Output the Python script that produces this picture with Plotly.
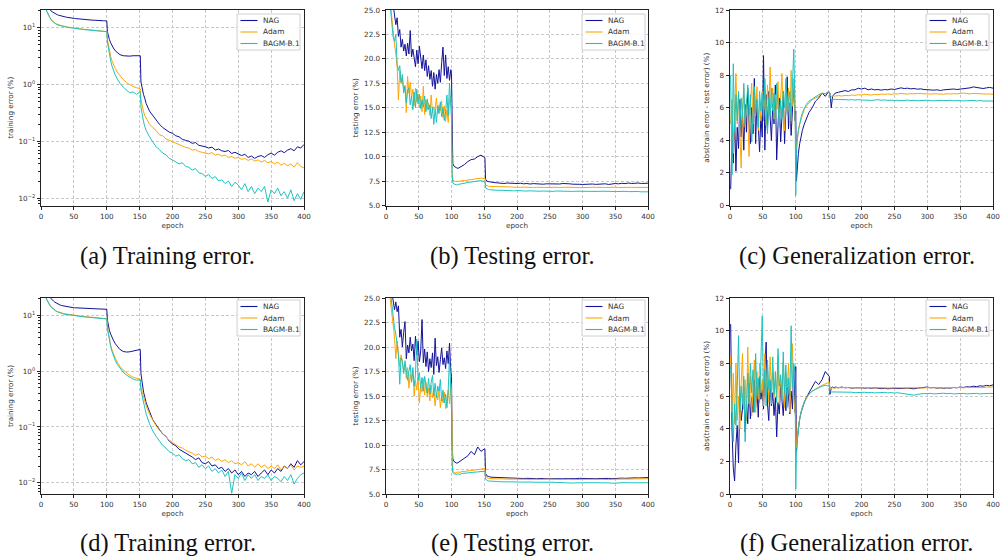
import plotly.graph_objects as go

# ---------------- epoch grid (4 segments) ----------------
EP_A = list(range(1, 100, 2))                                   # 50
EP_B = [100, 101, 102, 104, 106, 108, 110, 113, 116, 120, 125, 130, 135, 140, 145, 150]  # 16
EP_C = [151, 152, 154, 156, 158, 160]                           # 6
EP_D = list(range(165, 401, 5))                                 # 48
EPOCHS = EP_A + EP_B + EP_C + EP_D

SERIES = ["NAG", "Adam", "BAGM-B.1"]

# ---------------- (a) training error, row 1 ----------------
A_NAG = [45, 36, 30, 26, 23.5, 22, 20.8, 19.8, 19, 18.3,
         17.7, 17.2, 16.8, 16.5, 16.2, 16, 15.8, 15.6, 15.4, 15.2,
         15.1, 14.9, 14.8, 14.7, 14.6, 14.5, 14.4, 14.3, 14.2, 14.1,
         14.0, 14.0, 13.9, 13.8, 13.8, 13.7, 13.7, 13.6, 13.6, 13.5,
         13.5, 13.4, 13.4, 13.4, 13.3, 13.3, 13.3, 13.2, 13.2, 13.2,
         13.1, 8.5, 7.3, 6.2, 5.4, 4.8, 4.4, 3.9, 3.6, 3.35, 3.2, 3.15, 3.15, 3.2, 3.2, 3.25,
         3.2, 1.1, 0.78, 0.66, 0.56, 0.46,
         0.34, 0.28, 0.24, 0.2, 0.175, 0.16, 0.145, 0.138, 0.125, 0.12,
         0.108, 0.104, 0.1, 0.092, 0.095, 0.085, 0.083, 0.08, 0.076, 0.079,
         0.07, 0.073, 0.068, 0.066, 0.069, 0.061, 0.064, 0.06, 0.056, 0.059,
         0.052, 0.055, 0.05, 0.054, 0.056, 0.052, 0.058, 0.062, 0.057, 0.064,
         0.068, 0.063, 0.07, 0.074, 0.068, 0.08, 0.076, 0.088]
A_ADAM = [40, 32, 27, 22.5, 19.5, 17, 15.3, 14.1, 13.2, 12.6,
          12.1, 11.7, 11.4, 11.2, 11.0, 10.8, 10.7, 10.5, 10.4, 10.3,
          10.2, 10.1, 10.0, 9.9, 9.8, 9.75, 9.7, 9.6, 9.55, 9.5,
          9.45, 9.4, 9.35, 9.3, 9.25, 9.2, 9.15, 9.1, 9.05, 9.0,
          8.95, 8.9, 8.85, 8.8, 8.8, 8.75, 8.7, 8.65, 8.6, 8.55,
          8.5, 6.2, 5.2, 3.9, 3.1, 2.6, 2.25, 1.9, 1.65, 1.42, 1.22, 1.08, 0.98, 0.92, 0.88, 0.85,
          0.84, 0.55, 0.4, 0.33, 0.28, 0.25,
          0.2, 0.175, 0.155, 0.13, 0.125, 0.11, 0.104, 0.097, 0.092, 0.086,
          0.082, 0.078, 0.076, 0.07, 0.072, 0.066, 0.064, 0.062, 0.06, 0.063,
          0.057, 0.059, 0.055, 0.057, 0.052, 0.054, 0.05, 0.052, 0.048, 0.05,
          0.046, 0.049, 0.045, 0.047, 0.043, 0.046, 0.042, 0.044, 0.04, 0.043,
          0.038, 0.041, 0.037, 0.04, 0.035, 0.042, 0.036, 0.034]
A_BAGM = [39, 31, 26, 22, 19, 16.7, 15.1, 13.9, 13.0, 12.4,
          11.9, 11.5, 11.2, 11.0, 10.8, 10.6, 10.5, 10.4, 10.3, 10.2,
          10.1, 10.0, 9.9, 9.8, 9.7, 9.65, 9.6, 9.5, 9.45, 9.4,
          9.35, 9.3, 9.25, 9.2, 9.15, 9.1, 9.05, 9.0, 8.95, 8.9,
          8.85, 8.8, 8.75, 8.7, 8.7, 8.65, 8.6, 8.55, 8.5, 8.5,
          8.5, 5.6, 4.6, 3.3, 2.6, 2.1, 1.8, 1.45, 1.25, 1.05, 0.9, 0.79, 0.71, 0.74, 0.67, 0.73,
          0.72, 0.4, 0.28, 0.22, 0.18, 0.155,
          0.12, 0.095, 0.08, 0.072, 0.062, 0.058, 0.05, 0.047, 0.044, 0.04,
          0.042, 0.036, 0.035, 0.031, 0.033, 0.028, 0.027, 0.024, 0.026, 0.022,
          0.024, 0.02, 0.021, 0.018, 0.02, 0.016, 0.019, 0.017, 0.014, 0.018,
          0.013, 0.016, 0.012, 0.015, 0.013, 0.016, 0.0085, 0.014, 0.012, 0.015,
          0.011, 0.013, 0.01, 0.014, 0.009, 0.012, 0.0095, 0.013]

# ---------------- (b) testing error, row 1 ----------------
B_NAG = [40, 33, 29, 27.5, 26.5, 25.5, 24.8, 23.5, 24.2, 22.3,
         23.0, 21.2, 22.0, 20.8, 21.5, 20.3, 21.6, 20.5, 22.9, 20.2,
         21.0, 19.8, 19.2, 20.9, 19.5, 21.3, 20.0, 19.0, 20.4, 18.8,
         19.9, 18.2, 19.3, 17.9, 18.8, 17.2, 18.6, 16.9, 18.4, 17.5,
         18.9, 17.6, 19.6, 21.2, 18.3, 20.4, 18.0, 19.2, 17.8, 18.9,
         18.5, 10.5, 9.3, 9.0, 8.9, 8.85, 8.8, 8.9, 9.0, 9.2, 9.5, 9.7, 9.75, 10.0, 10.15, 10.0,
         9.9, 7.7, 7.5, 7.45, 7.4, 7.4,
         7.35, 7.3, 7.32, 7.25, 7.3, 7.27, 7.3, 7.25, 7.28, 7.22,
         7.25, 7.2, 7.24, 7.2, 7.22, 7.18, 7.22, 7.2, 7.18, 7.23,
         7.2, 7.25, 7.2, 7.22, 7.18, 7.2, 7.17, 7.15, 7.18, 7.15,
         7.2, 7.16, 7.2, 7.18, 7.22, 7.15, 7.2, 7.25, 7.22, 7.27,
         7.24, 7.3, 7.25, 7.28, 7.3, 7.25, 7.3, 7.28]
B_ADAM = [35, 30, 27, 25.5, 24, 22.8, 21.5, 20.5, 19.2, 15.8,
          18.8, 17.5, 18.0, 16.8, 17.3, 14.5, 18.2, 16.5, 17.6, 16.0,
          16.9, 15.2, 17.0, 15.6, 16.4, 15.0, 16.2, 14.6, 17.2, 14.3,
          15.8, 14.8, 15.5, 14.2, 16.3, 14.5, 15.1, 14.9, 16.0, 14.4,
          15.3, 14.7, 15.7, 14.0, 15.2, 13.6, 14.8, 13.5, 15.8, 16.2,
          14.5, 8.5, 7.6, 7.5, 7.45, 7.5, 7.45, 7.5, 7.55, 7.55, 7.6, 7.65, 7.7, 7.75, 7.8, 7.75,
          7.8, 7.1, 7.0, 6.98, 6.95, 6.95,
          6.92, 6.95, 6.9, 6.92, 6.88, 6.9, 6.87, 6.9, 6.86, 6.88,
          6.85, 6.87, 6.84, 6.86, 6.84, 6.86, 6.83, 6.85, 6.86, 6.84,
          6.86, 6.85, 6.87, 6.84, 6.86, 6.85, 6.83, 6.86, 6.84, 6.85,
          6.87, 6.84, 6.86, 6.85, 6.84, 6.86, 6.85, 6.87, 6.84, 6.86,
          6.85, 6.84, 6.86, 6.85, 6.84, 6.86, 6.85, 6.85]
B_BAGM = [34, 29, 26.5, 25, 23.5, 22.2, 21.8, 22.5, 19.5, 18.8,
          19.3, 17.6, 18.4, 16.5, 17.2, 15.5, 16.8, 17.0, 15.3, 16.2,
          14.8, 16.6, 15.0, 16.9, 15.4, 16.4, 14.9, 15.8, 15.1, 16.2,
          14.6, 15.9, 14.8, 15.3, 13.9, 15.0, 13.3, 14.9, 13.5, 15.2,
          14.4, 15.6, 14.1, 15.0, 13.7, 14.6, 16.3, 14.2, 17.5, 14.0,
          13.8, 8.2, 7.3, 7.2, 7.15, 7.1, 7.15, 7.2, 7.25, 7.3, 7.35, 7.4, 7.45, 7.5, 7.55, 7.45,
          7.5, 6.8, 6.7, 6.65, 6.62, 6.6,
          6.58, 6.55, 6.56, 6.53, 6.55, 6.52, 6.5, 6.52, 6.49, 6.5,
          6.48, 6.5, 6.47, 6.49, 6.46, 6.48, 6.46, 6.47, 6.45, 6.48,
          6.46, 6.47, 6.45, 6.46, 6.44, 6.46, 6.45, 6.46, 6.44, 6.45,
          6.43, 6.45, 6.44, 6.46, 6.43, 6.45, 6.44, 6.42, 6.44, 6.43,
          6.45, 6.42, 6.44, 6.41, 6.43, 6.4, 6.42, 6.4]

# ---------------- (c) generalization error, row 1 ----------------
C_NAG = [1.0, 4.0, 2.6, 5.5, 2.1, 4.8, 3.5, 6.5, 4.2, 5.8,
         3.4, 6.2, 4.5, 7.2, 5.0, 3.8, 6.0, 4.4, 7.8, 3.8,
         6.5, 4.8, 3.3, 5.5, 4.2, 9.2, 3.4, 6.8, 4.6, 7.0,
         5.2, 4.0, 6.2, 5.0, 7.4, 2.8, 4.9, 6.6, 3.9, 5.5,
         7.0, 3.8, 6.0, 7.9, 4.7, 6.3, 4.3, 5.8, 7.5, 5.2,
         5.8, 1.5, 2.3, 3.2, 3.8, 4.3, 4.6, 5.0, 5.3, 5.7, 6.0, 6.4, 6.6, 6.9, 6.7, 7.0,
         6.9, 6.9, 6.0, 6.7, 6.8, 6.9,
         6.95, 7.0, 7.05, 7.0, 7.1, 7.1, 7.2, 7.15, 7.2, 7.1,
         7.15, 7.1, 7.12, 7.08, 7.12, 7.1, 7.15, 7.12, 7.18, 7.22,
         7.18, 7.2, 7.16, 7.18, 7.14, 7.16, 7.12, 7.1, 7.12, 7.08,
         7.1, 7.06, 7.1, 7.12, 7.1, 7.15, 7.12, 7.14, 7.2, 7.18,
         7.22, 7.28, 7.24, 7.2, 7.18, 7.22, 7.25, 7.2]
C_ADAM = [5.0, 6.5, 3.2, 6.0, 8.1, 5.0, 6.8, 4.5, 2.3, 5.8,
          7.2, 4.8, 6.5, 5.5, 3.0, 6.2, 7.5, 5.0, 6.8, 5.5,
          7.3, 4.6, 6.4, 5.2, 7.0, 5.8, 6.5, 4.9, 7.4, 5.6,
          8.5, 6.0, 7.2, 5.3, 6.8, 5.9, 7.6, 5.0, 6.4, 8.1,
          5.5, 4.6, 6.9, 5.8, 7.2, 5.0, 8.3, 6.1, 7.8, 4.8,
          4.0, 3.5, 4.0, 4.6, 5.0, 5.3, 5.6, 5.9, 6.1, 6.3, 6.5, 6.6, 6.7, 6.9, 6.85, 7.0,
          6.95, 6.8, 6.7, 6.72, 6.7, 6.72,
          6.75, 6.72, 6.76, 6.74, 6.78, 6.76, 6.8, 6.78, 6.82, 6.8,
          6.78, 6.82, 6.8, 6.84, 6.82, 6.85, 6.82, 6.86, 6.84, 6.88,
          6.85, 6.84, 6.87, 6.85, 6.88, 6.86, 6.84, 6.86, 6.84, 6.86,
          6.84, 6.85, 6.83, 6.86, 6.84, 6.87, 6.85, 6.88, 6.9, 6.87,
          6.85, 6.88, 6.86, 6.84, 6.86, 6.84, 6.85, 6.83]
C_BAGM = [8.0, 1.9, 8.7, 4.5, 6.8, 5.2, 7.0, 4.8, 6.6, 5.4,
          7.5, 5.0, 6.2, 7.4, 5.5, 6.8, 3.9, 6.0, 7.3, 5.6,
          6.5, 4.8, 7.0, 5.8, 6.9, 5.2, 7.8, 6.0, 4.4, 6.6,
          5.5, 7.2, 5.8, 6.9, 5.0, 7.5, 6.2, 4.8, 6.5, 5.3,
          7.0, 6.0, 7.8, 5.6, 6.4, 7.0, 5.2, 7.5, 9.6, 6.0,
          0.6, 3.0, 4.0, 4.6, 5.1, 5.4, 5.7, 6.0, 6.2, 6.4, 6.55, 6.65, 6.8, 6.9, 6.85, 7.0,
          6.9, 6.6, 6.5, 6.52, 6.5, 6.52,
          6.5, 6.52, 6.5, 6.48, 6.5, 6.47, 6.5, 6.48, 6.46, 6.48,
          6.45, 6.47, 6.5, 6.46, 6.48, 6.45, 6.47, 6.44, 6.46, 6.43,
          6.45, 6.47, 6.44, 6.46, 6.43, 6.45, 6.44, 6.46, 6.44, 6.42,
          6.45, 6.43, 6.45, 6.44, 6.46, 6.43, 6.45, 6.44, 6.42, 6.44,
          6.43, 6.45, 6.42, 6.44, 6.41, 6.43, 6.42, 6.4]

# ---------------- (d) training error, row 2 ----------------
D_NAG = [45, 36, 30, 26.5, 24, 22.5, 21.2, 20, 19, 18,
         17.2, 16.6, 16.1, 15.7, 15.3, 15, 14.8, 14.6, 14.4, 14.2,
         14.1, 14.0, 13.9, 13.8, 13.7, 13.65, 13.6, 13.5, 13.45, 13.4,
         13.35, 13.3, 13.3, 13.25, 13.2, 13.2, 13.15, 13.1, 13.1, 13.05,
         13.0, 13.0, 12.95, 12.95, 12.9, 12.9, 12.9, 12.85, 12.85, 12.8,
         12.8, 8.2, 6.8, 5.4, 4.6, 4.0, 3.6, 3.1, 2.75, 2.45, 2.25, 2.2, 2.22, 2.28, 2.36, 2.45,
         2.45, 0.9, 0.55, 0.42, 0.34, 0.27,
         0.19, 0.135, 0.11, 0.09, 0.075, 0.068, 0.056, 0.05, 0.046, 0.04,
         0.037, 0.034, 0.031, 0.029, 0.026, 0.028, 0.023, 0.022, 0.024, 0.02,
         0.021, 0.018, 0.019, 0.016, 0.018, 0.015, 0.017, 0.014, 0.016, 0.013,
         0.015, 0.014, 0.016, 0.013, 0.015, 0.017, 0.014, 0.017, 0.015, 0.018,
         0.016, 0.02, 0.018, 0.022, 0.019, 0.025, 0.021, 0.024]
D_ADAM = [38, 30, 25, 21.5, 19, 17, 15.6, 14.5, 13.6, 12.9,
          12.4, 12.0, 11.7, 11.4, 11.2, 11.0, 10.9, 10.7, 10.6, 10.5,
          10.4, 10.3, 10.2, 10.1, 10.0, 9.95, 9.9, 9.8, 9.75, 9.7,
          9.6, 9.55, 9.5, 9.45, 9.4, 9.35, 9.3, 9.25, 9.2, 9.15,
          9.1, 9.05, 9.0, 8.95, 8.9, 8.85, 8.8, 8.8, 8.75, 8.7,
          8.7, 6.0, 5.0, 3.7, 2.9, 2.4, 2.05, 1.7, 1.45, 1.22, 1.05, 0.92, 0.84, 0.78, 0.74, 0.72,
          0.72, 0.5, 0.42, 0.35, 0.29, 0.24,
          0.17, 0.13, 0.105, 0.088, 0.076, 0.066, 0.058, 0.053, 0.048, 0.044,
          0.042, 0.038, 0.036, 0.034, 0.031, 0.033, 0.029, 0.03, 0.027, 0.029,
          0.025, 0.027, 0.024, 0.026, 0.023, 0.025, 0.022, 0.023, 0.021, 0.024,
          0.02, 0.022, 0.019, 0.022, 0.019, 0.021, 0.018, 0.02, 0.018, 0.021,
          0.017, 0.02, 0.018, 0.021, 0.017, 0.02, 0.019, 0.02]
D_BAGM = [37, 29, 24.5, 21, 18.6, 16.7, 15.3, 14.2, 13.4, 12.7,
          12.2, 11.8, 11.5, 11.2, 11.0, 10.8, 10.7, 10.5, 10.4, 10.3,
          10.2, 10.1, 10.0, 9.9, 9.85, 9.8, 9.7, 9.65, 9.6, 9.55,
          9.5, 9.45, 9.4, 9.35, 9.3, 9.25, 9.2, 9.15, 9.1, 9.05,
          9.0, 8.95, 8.9, 8.85, 8.8, 8.75, 8.75, 8.7, 8.65, 8.6,
          8.6, 5.8, 4.8, 3.5, 2.75, 2.25, 1.9, 1.55, 1.32, 1.12, 0.96, 0.85, 0.77, 0.72, 0.69, 0.7,
          0.7, 0.45, 0.34, 0.26, 0.21, 0.17,
          0.115, 0.085, 0.068, 0.056, 0.047, 0.042, 0.036, 0.034, 0.03, 0.032,
          0.027, 0.025, 0.026, 0.022, 0.023, 0.019, 0.021, 0.018, 0.02, 0.016,
          0.018, 0.015, 0.017, 0.013, 0.016, 0.0065, 0.014, 0.012, 0.015, 0.011,
          0.014, 0.012, 0.014, 0.011, 0.013, 0.012, 0.014, 0.011, 0.013, 0.012,
          0.0105, 0.013, 0.011, 0.014, 0.0095, 0.012, 0.014, 0.015]

# ---------------- (e) testing error, row 2 ----------------
E_NAG = [40, 32, 28, 26.5, 25.5, 24.5, 23.8, 24.6, 23.6, 24.2,
         21.0, 21.8, 20.0, 21.5, 22.6, 18.8, 20.2, 19.4, 21.0, 19.6,
         20.3, 18.6, 21.1, 19.2, 20.6, 18.5, 19.6, 22.8, 18.4, 19.8,
         18.0, 19.5, 17.5, 18.8, 17.9, 19.4, 17.2, 20.9, 18.1, 19.0,
         17.4, 18.7, 19.9, 18.2, 18.9, 17.8, 19.6, 18.3, 20.4, 17.5,
         17.0, 10.0, 8.6, 8.3, 8.2, 8.15, 8.2, 8.35, 8.5, 8.7, 8.9, 9.35, 9.0, 9.8, 9.35, 9.6,
         9.6, 7.1, 6.85, 6.8, 6.75, 6.72,
         6.7, 6.68, 6.66, 6.65, 6.63, 6.64, 6.6, 6.62, 6.6, 6.58,
         6.6, 6.57, 6.59, 6.56, 6.58, 6.55, 6.57, 6.55, 6.56, 6.54,
         6.56, 6.55, 6.57, 6.55, 6.58, 6.56, 6.6, 6.58, 6.6, 6.57,
         6.59, 6.56, 6.58, 6.6, 6.57, 6.59, 6.56, 6.6, 6.58, 6.62,
         6.6, 6.63, 6.61, 6.65, 6.63, 6.67, 6.65, 6.68]
E_ADAM = [35, 29, 26, 24.5, 23.0, 22.2, 21.0, 18.8, 20.6, 19.5,
          18.0, 19.2, 18.6, 17.4, 18.3, 16.8, 17.9, 15.8, 17.2, 16.5,
          17.6, 15.0, 16.6, 15.6, 16.9, 14.3, 16.0, 15.4, 16.8, 15.1,
          16.4, 14.9, 15.8, 14.5, 16.1, 14.8, 15.5, 14.0, 15.3, 14.6,
          15.7, 13.8, 15.0, 14.3, 15.4, 13.7, 14.9, 15.6, 14.2, 16.3,
          15.5, 8.3, 7.3, 7.2, 7.15, 7.2, 7.25, 7.2, 7.3, 7.3, 7.35, 7.4, 7.45, 7.5, 7.55, 7.6,
          7.6, 6.8, 6.65, 6.6, 6.58, 6.56,
          6.55, 6.54, 6.55, 6.52, 6.53, 6.51, 6.52, 6.5, 6.52, 6.5,
          6.51, 6.49, 6.5, 6.48, 6.5, 6.49, 6.51, 6.48, 6.5, 6.49,
          6.47, 6.49, 6.48, 6.5, 6.47, 6.49, 6.48, 6.5, 6.48, 6.5,
          6.49, 6.51, 6.49, 6.5, 6.48, 6.5, 6.52, 6.5, 6.52, 6.51,
          6.53, 6.52, 6.54, 6.53, 6.55, 6.54, 6.56, 6.55]
E_BAGM = [36, 30, 27, 25.5, 24.2, 23.0, 22.0, 21.3, 20.1, 19.2,
          16.2, 18.9, 18.5, 17.3, 18.6, 17.8, 16.6, 17.5, 18.2, 16.4,
          17.9, 16.0, 17.2, 20.8, 16.6, 17.4, 15.8, 16.9, 15.5, 17.0,
          16.1, 15.3, 16.8, 15.2, 16.4, 17.1, 15.0, 16.3, 14.8, 16.0,
          15.5, 16.7, 14.5, 15.6, 14.3, 15.2, 13.8, 15.6, 19.0, 14.2,
          13.6, 8.0, 7.2, 7.05, 7.0, 7.0, 7.05, 7.0, 7.1, 7.1, 7.15, 7.2, 7.2, 7.25, 7.3, 7.3,
          7.3, 6.5, 6.4, 6.35, 6.32, 6.3,
          6.28, 6.27, 6.25, 6.26, 6.24, 6.25, 6.22, 6.23, 6.21, 6.23,
          6.2, 6.22, 6.2, 6.21, 6.19, 6.2, 6.21, 6.19, 6.2, 6.18,
          6.16, 6.13, 6.1, 6.09, 6.12, 6.14, 6.15, 6.14, 6.16, 6.14,
          6.15, 6.13, 6.15, 6.14, 6.16, 6.14, 6.1, 6.13, 6.15, 6.14,
          6.16, 6.14, 6.15, 6.13, 6.15, 6.14, 6.16, 6.15]

# ---------------- (f) generalization error, row 2 ----------------
F_NAG = [10.4, 4.0, 1.6, 0.8, 3.0, 4.2, 1.9, 6.2, 4.5, 5.2,
         6.6, 3.8, 5.6, 4.3, 6.8, 4.6, 5.9, 5.0, 7.0, 5.3,
         6.5, 4.7, 7.2, 5.8, 6.4, 5.2, 7.6, 9.3, 5.5, 4.5,
         6.9, 5.4, 6.2, 4.8, 5.9, 3.5, 5.6, 4.9, 6.7, 5.8,
         4.8, 6.4, 5.1, 7.0, 5.6, 4.9, 6.3, 5.2, 7.8, 5.0,
         7.8, 2.5, 3.3, 4.1, 4.6, 5.0, 5.3, 5.6, 5.9, 6.2, 6.5, 6.9, 6.7, 7.0, 7.5, 7.2,
         7.2, 6.1, 6.5, 6.55, 6.5, 6.55,
         6.5, 6.55, 6.5, 6.52, 6.48, 6.5, 6.52, 6.5, 6.48, 6.5,
         6.47, 6.5, 6.48, 6.45, 6.47, 6.44, 6.46, 6.48, 6.45, 6.47,
         6.5, 6.48, 6.46, 6.44, 6.48, 6.5, 6.53, 6.55, 6.5, 6.52,
         6.48, 6.5, 6.47, 6.5, 6.48, 6.52, 6.5, 6.55, 6.52, 6.57,
         6.55, 6.6, 6.57, 6.62, 6.6, 6.65, 6.62, 6.68]
F_ADAM = [8.5, 5.0, 7.4, 4.3, 8.0, 4.5, 6.0, 4.0, 6.8, 8.6,
          5.2, 7.0, 4.5, 9.0, 5.5, 7.2, 4.8, 6.5, 8.2, 5.0,
          7.5, 5.8, 8.0, 6.2, 7.0, 5.4, 8.6, 6.0, 7.8, 5.6,
          8.4, 6.3, 7.5, 5.9, 7.0, 6.2, 8.5, 5.5, 7.2, 6.0,
          8.1, 5.3, 7.4, 6.5, 8.0, 5.0, 7.0, 9.2, 6.0, 5.0,
          4.5, 2.8, 3.4, 4.1, 4.6, 5.0, 5.3, 5.6, 5.85, 6.1, 6.3, 6.45, 6.55, 6.65, 6.75, 6.85,
          6.85, 6.4, 6.45, 6.5, 6.48, 6.5,
          6.52, 6.5, 6.53, 6.51, 6.5, 6.52, 6.5, 6.51, 6.5, 6.52,
          6.5, 6.49, 6.51, 6.5, 6.48, 6.5, 6.49, 6.51, 6.5, 6.48,
          6.5, 6.49, 6.51, 6.5, 6.48, 6.5, 6.49, 6.51, 6.5, 6.52,
          6.5, 6.51, 6.5, 6.52, 6.5, 6.53, 6.51, 6.52, 6.5, 6.53,
          6.52, 6.54, 6.52, 6.53, 6.51, 6.54, 6.53, 6.55]
F_BAGM = [7.8, 5.5, 3.2, 5.5, 4.2, 6.5, 9.7, 5.0, 6.6, 5.5,
          7.2, 3.2, 6.0, 7.4, 5.6, 8.0, 6.2, 7.6, 5.0, 8.6,
          6.0, 7.1, 5.6, 8.0, 10.9, 6.0, 7.6, 5.4, 8.2, 6.4,
          7.0, 5.5, 8.4, 6.1, 7.5, 5.6, 8.9, 6.6, 7.3, 5.8,
          8.7, 6.2, 7.9, 5.3, 7.1, 6.0, 10.3, 6.5, 8.0, 7.5,
          0.3, 2.5, 3.2, 4.0, 4.6, 5.0, 5.3, 5.65, 5.9, 6.1, 6.3, 6.4, 6.5, 6.6, 6.65, 6.6,
          6.6, 6.25, 6.25, 6.22, 6.25, 6.23,
          6.25, 6.22, 6.24, 6.21, 6.23, 6.2, 6.22, 6.21, 6.23, 6.2,
          6.22, 6.19, 6.21, 6.2, 6.22, 6.19, 6.21, 6.18, 6.2, 6.17,
          6.14, 6.1, 6.06, 6.05, 6.1, 6.13, 6.15, 6.14, 6.16, 6.13,
          6.15, 6.14, 6.17, 6.14, 6.16, 6.13, 6.15, 6.14, 6.16, 6.13,
          6.15, 6.14, 6.16, 6.13, 6.15, 6.14, 6.16, 6.15]

PANELS = [
    (A_NAG, A_ADAM, A_BAGM),
    (B_NAG, B_ADAM, B_BAGM),
    (C_NAG, C_ADAM, C_BAGM),
    (D_NAG, D_ADAM, D_BAGM),
    (E_NAG, E_ADAM, E_BAGM),
    (F_NAG, F_ADAM, F_BAGM),
]
Y_TITLES = ["training error (%)", "testing error (%)", "abs(train error - test error) (%)"]
CAPTIONS = ["(a) Training error.", "(b) Testing error.", "(c) Generalization error.",
            "(d) Training error.", "(e) Testing error.", "(f) Generalization error."]
X_TICKS = [0, 50, 100, 150, 200, 250, 300, 350, 400]

COLORS = ["#12129a", "#ffa500", "#1cc2c2"]

W, H = 1001, 557
# plot-area pixel boxes
COLS_PX = [(41, 304), (386, 648), (730, 993)]
ROWS_PX = [(10, 205.5), (298, 494)]
LEG_BOX_PX = [(237, 14), (582, 14), (926, 14), (237, 300), (582, 300), (926, 300)]
LEG_W, LEG_H = 63, 36

fig = go.Figure()

for p, series in enumerate(PANELS):
    ax = "" if p == 0 else str(p + 1)
    for s, (name, ys) in enumerate(zip(SERIES, series)):
        fig.add_trace(go.Scatter(
            x=EPOCHS[:len(ys)], y=ys, mode="lines", name=name,
            line=dict(color=COLORS[s], width=1.0),
            xaxis="x" + ax, yaxis="y" + ax, showlegend=False,
        ))

axis_font = dict(family="DejaVu Sans", size=7.2, color="#333333")
layout = dict(
    width=W, height=H, margin=dict(l=0, r=0, t=0, b=0, autoexpand=False),
    paper_bgcolor="white", plot_bgcolor="white", showlegend=False,
    font=dict(family="DejaVu Sans", size=7.2, color="#333333"),
)

log_tickvals = [0.01, 0.1, 1, 10]
log_ticktext = ["10<sup>\u22122</sup>", "10<sup>\u22121</sup>", "10<sup>0</sup>", "10<sup>1</sup>"]
minor_vals = []
for dec in [0.001, 0.01, 0.1, 1, 10]:
    for m in range(2, 10):
        minor_vals.append(round(dec * m, 6))


def px_x(v):
    return v / W


def px_y(v):
    return 1 - v / H


annotations = []
shapes = []
for p in range(6):
    r, c = divmod(p, 3)
    ax = "" if p == 0 else str(p + 1)
    x0, x1 = COLS_PX[c]
    y0, y1 = ROWS_PX[r]
    common = dict(showline=True, linecolor="#222222", linewidth=0.9, mirror=True,
                  ticks="outside", ticklen=3.5, tickwidth=0.8, tickcolor="#222222",
                  showgrid=True, gridcolor="#c8c8c8", gridwidth=0.7, griddash="3px,2px",
                  zeroline=False, tickfont=axis_font, automargin=False)
    layout["xaxis" + ax] = dict(
        domain=[px_x(x0), px_x(x1)], anchor="y" + ax, range=[0, 400],
        tickvals=X_TICKS, title=dict(text="epoch", font=axis_font, standoff=1),
        **common)
    ydict = dict(domain=[px_y(y1), px_y(y0)], anchor="x" + ax,
                 title=dict(text=Y_TITLES[c], font=axis_font, standoff=4), **common)
    if c == 0:
        ydict.update(type="log", range=[-2.13, 1.31] if r == 0 else [-2.2, 1.31],
                     tickvals=log_tickvals, ticktext=log_ticktext,
                     minor=dict(tickvals=minor_vals, ticks="outside", ticklen=2,
                                tickcolor="#222222", showgrid=False))
    elif c == 1:
        ydict.update(range=[5, 25], tickvals=[5, 7.5, 10, 12.5, 15, 17.5, 20, 22.5, 25],
                     ticktext=["5.0", "7.5", "10.0", "12.5", "15.0", "17.5", "20.0", "22.5", "25.0"])
    else:
        ydict.update(range=[0, 12], tickvals=[0, 2, 4, 6, 8, 10, 12])
    layout["yaxis" + ax] = ydict

    # legend box (matplotlib-style, upper right)
    lx, ly = LEG_BOX_PX[p]
    shapes.append(dict(type="rect", xref="paper", yref="paper",
                       x0=px_x(lx), x1=px_x(lx + LEG_W), y0=px_y(ly + LEG_H), y1=px_y(ly),
                       line=dict(color="#d0d0d0", width=1),
                       fillcolor="rgba(255,255,255,0.85)", layer="above"))
    for s, name in enumerate(SERIES):
        yy = ly + 6.5 + s * 11.5
        shapes.append(dict(type="line", xref="paper", yref="paper",
                           x0=px_x(lx + 3.5), x1=px_x(lx + 20.5), y0=px_y(yy), y1=px_y(yy),
                           line=dict(color=COLORS[s], width=1.1), layer="above"))
        annotations.append(dict(text=name, xref="paper", yref="paper",
                                x=px_x(lx + 24), y=px_y(yy), xanchor="left", yanchor="middle",
                                showarrow=False,
                                font=dict(family="DejaVu Sans", size=7.4, color="#333333")))

    annotations.append(dict(
        text=CAPTIONS[p], xref="paper", yref="paper",
        x=px_x((x0 + x1) / 2 - 5), y=px_y(256 if r == 0 else 543),
        xanchor="center", yanchor="middle", showarrow=False,
        font=dict(family="Liberation Serif", size=24.5, color="#111111"),
    ))

layout["annotations"] = annotations
layout["shapes"] = shapes
fig.update_layout(**layout)
fig.write_html("out.html", config={"displayModeBar": False},
               post_script="document.body.style.margin='0';document.body.style.overflow='hidden';")
